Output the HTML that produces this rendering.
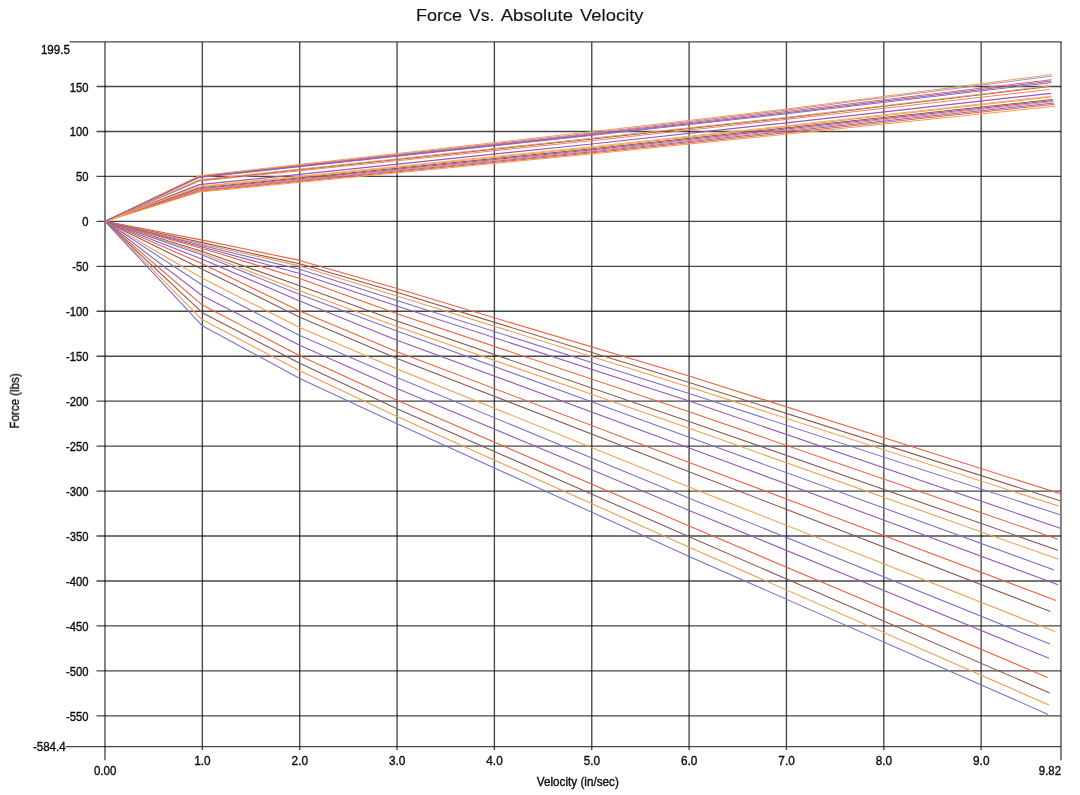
<!DOCTYPE html>
<html><head><meta charset="utf-8"><title>Force Vs. Absolute Velocity</title>
<style>
html,body{margin:0;padding:0;background:#fff;}
body{width:1080px;height:795px;overflow:hidden;font-family:"Liberation Sans",sans-serif;}
svg{display:block;}
text{font-family:"Liberation Sans",sans-serif;fill:#111;}
.t{font-size:11.8px;}
</style></head><body>
<svg width="1080" height="795" viewBox="0 0 1080 795">
<rect width="1080" height="795" fill="#fff"/>
<g stroke="rgba(0,0,0,0.72)" stroke-width="1.35" fill="none">
<line x1="96.5" y1="86.50" x2="1060.98" y2="86.50"/>
<line x1="96.5" y1="131.45" x2="1060.98" y2="131.45"/>
<line x1="96.5" y1="176.40" x2="1060.98" y2="176.40"/>
<line x1="96.5" y1="221.35" x2="1060.98" y2="221.35"/>
<line x1="96.5" y1="266.30" x2="1060.98" y2="266.30"/>
<line x1="96.5" y1="311.25" x2="1060.98" y2="311.25"/>
<line x1="96.5" y1="356.20" x2="1060.98" y2="356.20"/>
<line x1="96.5" y1="401.15" x2="1060.98" y2="401.15"/>
<line x1="96.5" y1="446.10" x2="1060.98" y2="446.10"/>
<line x1="96.5" y1="491.05" x2="1060.98" y2="491.05"/>
<line x1="96.5" y1="536.00" x2="1060.98" y2="536.00"/>
<line x1="96.5" y1="580.95" x2="1060.98" y2="580.95"/>
<line x1="96.5" y1="625.90" x2="1060.98" y2="625.90"/>
<line x1="96.5" y1="670.85" x2="1060.98" y2="670.85"/>
<line x1="96.5" y1="715.80" x2="1060.98" y2="715.80"/>
<line x1="69.5" y1="41.90" x2="1061.65" y2="41.90"/>
<line x1="65.5" y1="746.55" x2="1060.98" y2="746.55"/>
<line x1="105.00" y1="41.90" x2="105.00" y2="760.2"/>
<line x1="202.35" y1="41.90" x2="202.35" y2="750"/>
<line x1="299.70" y1="41.90" x2="299.70" y2="750"/>
<line x1="397.05" y1="41.90" x2="397.05" y2="750"/>
<line x1="494.40" y1="41.90" x2="494.40" y2="750"/>
<line x1="591.75" y1="41.90" x2="591.75" y2="750"/>
<line x1="689.10" y1="41.90" x2="689.10" y2="750"/>
<line x1="786.45" y1="41.90" x2="786.45" y2="750"/>
<line x1="883.80" y1="41.90" x2="883.80" y2="750"/>
<line x1="981.15" y1="41.90" x2="981.15" y2="750"/>
<line x1="1060.98" y1="41.90" x2="1060.98" y2="760.2"/>
</g>
<g fill="none" stroke-width="1.08" stroke-linejoin="round" stroke-linecap="butt">
<polyline stroke="#f0603c" points="105.0,221.3 202.3,240.1 299.7,260.4 397.0,288.6 689.1,376.1 1060.5,493.7"/>
<polyline stroke="#8a584e" points="105.0,221.3 202.3,242.6 299.7,263.8 397.0,292.3 689.1,382.4 1060.2,500.8"/>
<polyline stroke="#f59b50" points="105.0,221.3 202.3,244.1 299.7,265.9 397.0,295.9 689.1,387.0 1059.2,506.3"/>
<polyline stroke="#7a70cc" points="105.0,221.3 202.3,245.6 299.7,269.3 397.0,300.6 689.1,393.4 1060.2,514.8"/>
<polyline stroke="#9658b6" points="105.0,221.3 202.3,247.1 299.7,273.4 397.0,306.0 689.1,401.1 1060.2,528.2"/>
<polyline stroke="#f0603c" points="105.0,221.3 202.3,248.4 299.7,278.4 397.0,313.7 689.1,411.8 1057.8,539.2"/>
<polyline stroke="#8a584e" points="105.0,221.3 202.3,251.4 299.7,285.7 397.0,321.1 689.1,421.4 1057.8,550.2"/>
<polyline stroke="#f59b50" points="105.0,221.3 202.3,253.2 299.7,290.8 397.0,326.5 689.1,428.2 1058.4,559.3"/>
<polyline stroke="#7a70cc" points="105.0,221.3 202.3,255.0 299.7,294.6 397.0,331.1 689.1,437.2 1054.2,570.0"/>
<polyline stroke="#9658b6" points="105.0,221.3 202.3,259.2 299.7,301.1 397.0,340.2 689.1,447.9 1058.1,584.8"/>
<polyline stroke="#f0603c" points="105.0,221.3 202.3,263.8 299.7,311.1 397.0,351.7 689.1,462.4 1056.0,600.4"/>
<polyline stroke="#8a584e" points="105.0,221.3 202.3,269.3 299.7,317.2 397.0,358.5 689.1,471.8 1050.5,611.4"/>
<polyline stroke="#f59b50" points="105.0,221.3 202.3,278.3 299.7,327.6 397.0,368.9 689.1,486.9 1055.0,631.5"/>
<polyline stroke="#7a70cc" points="105.0,221.3 202.3,285.0 299.7,335.6 397.0,377.6 689.1,498.2 1050.0,644.1"/>
<polyline stroke="#9658b6" points="105.0,221.3 202.3,295.8 299.7,345.2 397.0,388.5 689.1,510.4 1049.0,658.3"/>
<polyline stroke="#f0603c" points="105.0,221.3 202.3,305.1 299.7,355.7 397.0,400.3 689.1,526.0 1047.5,677.4"/>
<polyline stroke="#8a584e" points="105.0,221.3 202.3,312.7 299.7,363.3 397.0,408.8 689.1,536.8 1049.7,693.0"/>
<polyline stroke="#f59b50" points="105.0,221.3 202.3,319.8 299.7,370.8 397.0,416.4 689.1,547.3 1049.0,705.0"/>
<polyline stroke="#7a70cc" points="105.0,221.3 202.3,325.8 299.7,378.4 397.0,423.7 689.1,556.4 1048.2,714.4"/>
</g>
<g fill="none" stroke-width="1.0" stroke-linejoin="round">
<polyline stroke="#7a70cc" points="105.0,221.3 199.3,177.5 591.8,135.4 786.4,113.8 1051.5,82.6"/>
<polyline stroke="#7a70cc" points="105.0,221.3 199.3,190.4 591.8,151.8 786.4,131.4 1054.0,103.0"/>
<polyline stroke="#9a94dc" points="105.0,221.3 199.3,176.2 591.8,133.0 786.4,110.1 1051.9,76.1"/>
<polyline stroke="#9658b6" points="105.0,221.3 199.3,188.8 591.8,149.9 786.4,129.0 1052.8,100.6"/>
<polyline stroke="#9658b6" stroke-width="1.25" points="105.0,221.3 199.3,184.7 591.8,144.0 786.4,122.8 1051.1,93.3"/>
<polyline stroke="#f0603c" points="105.0,221.3 199.3,176.7 591.8,133.9 786.4,111.5 1051.5,79.7"/>
<polyline stroke="#f4806a" points="105.0,221.3 199.3,181.1 591.8,140.7 786.4,119.4 1049.4,89.5"/>
<polyline stroke="#f4806a" points="105.0,221.3 199.3,189.7 591.8,150.9 786.4,130.2 1053.5,101.6"/>
<polyline stroke="#f0603c" points="105.0,221.3 199.3,191.2 591.8,152.8 786.4,132.8 1054.5,104.3"/>
<polyline stroke="#8a584e" points="105.0,221.3 199.3,180.2 591.8,139.0 786.4,118.0 1050.3,86.4"/>
<polyline stroke="#8a584e" points="105.0,221.3 199.3,187.9 591.8,148.8 786.4,127.8 1052.8,99.5"/>
<polyline stroke="#f59b50" points="105.0,221.3 199.3,179.8 591.8,138.2 786.4,117.4 1050.3,85.8"/>
<polyline stroke="#f7b060" points="105.0,221.3 199.3,186.3 591.8,146.6 786.4,125.7 1051.9,96.0"/>
<polyline stroke="#f59b50" points="105.0,221.3 199.3,187.0 591.8,147.6 786.4,126.6 1051.9,96.9"/>
<polyline stroke="#f59b50" points="105.0,221.3 199.3,175.7 591.8,131.7 786.4,109.1 1051.9,74.5"/>
<polyline stroke="#f59b50" points="105.0,221.3 199.3,192.1 591.8,153.9 786.4,134.2 1055.7,106.2"/>
<polyline stroke="#9658b6" points="105.0,221.3 199.3,177.1 591.8,134.7 786.4,112.8 1051.5,81.1"/>
</g>
<g fill="#000" stroke="#000" stroke-width="0.35" opacity="0.99">
<text transform="translate(415.90,21.30) scale(1.0368,1)" text-anchor="start" font-size="17.4px" stroke-width="0.12">Force</text>
<text transform="translate(469.10,21.30) scale(1.0044,1)" text-anchor="start" font-size="17.4px" stroke-width="0.12">Vs.</text>
<text transform="translate(500.70,21.30) scale(1.0681,1)" text-anchor="start" font-size="17.4px" stroke-width="0.12">Absolute</text>
<text transform="translate(580.10,21.30) scale(1.059,1)" text-anchor="start" font-size="17.4px" stroke-width="0.12">Velocity</text>
<text transform="translate(88.40,91.50) scale(0.9345,1)" text-anchor="end" font-size="12.0px">150</text>
<text transform="translate(88.40,136.45) scale(0.9345,1)" text-anchor="end" font-size="12.0px">100</text>
<text transform="translate(88.40,181.40) scale(0.9345,1)" text-anchor="end" font-size="12.0px">50</text>
<text transform="translate(88.40,226.35) scale(0.9345,1)" text-anchor="end" font-size="12.0px">0</text>
<text transform="translate(88.40,271.30) scale(0.9345,1)" text-anchor="end" font-size="12.0px">-50</text>
<text transform="translate(88.40,316.25) scale(0.9345,1)" text-anchor="end" font-size="12.0px">-100</text>
<text transform="translate(88.40,361.20) scale(0.9345,1)" text-anchor="end" font-size="12.0px">-150</text>
<text transform="translate(88.40,406.15) scale(0.9345,1)" text-anchor="end" font-size="12.0px">-200</text>
<text transform="translate(88.40,451.10) scale(0.9345,1)" text-anchor="end" font-size="12.0px">-250</text>
<text transform="translate(88.40,496.05) scale(0.9345,1)" text-anchor="end" font-size="12.0px">-300</text>
<text transform="translate(88.40,541.00) scale(0.9345,1)" text-anchor="end" font-size="12.0px">-350</text>
<text transform="translate(88.40,585.95) scale(0.9345,1)" text-anchor="end" font-size="12.0px">-400</text>
<text transform="translate(88.40,630.90) scale(0.9345,1)" text-anchor="end" font-size="12.0px">-450</text>
<text transform="translate(88.40,675.85) scale(0.9345,1)" text-anchor="end" font-size="12.0px">-500</text>
<text transform="translate(88.40,720.80) scale(0.9345,1)" text-anchor="end" font-size="12.0px">-550</text>
<text transform="translate(69.90,53.70) scale(0.966,1)" text-anchor="end" font-size="12.0px">199.5</text>
<text transform="translate(65.70,751.20) scale(0.966,1)" text-anchor="end" font-size="12.0px">-584.4</text>
<text transform="translate(202.45,764.80) scale(0.9839,1)" text-anchor="middle" font-size="12.0px">1.0</text>
<text transform="translate(299.80,764.80) scale(0.9839,1)" text-anchor="middle" font-size="12.0px">2.0</text>
<text transform="translate(397.15,764.80) scale(0.9839,1)" text-anchor="middle" font-size="12.0px">3.0</text>
<text transform="translate(494.50,764.80) scale(0.9839,1)" text-anchor="middle" font-size="12.0px">4.0</text>
<text transform="translate(591.85,764.80) scale(0.9839,1)" text-anchor="middle" font-size="12.0px">5.0</text>
<text transform="translate(689.20,764.80) scale(0.9839,1)" text-anchor="middle" font-size="12.0px">6.0</text>
<text transform="translate(786.55,764.80) scale(0.9839,1)" text-anchor="middle" font-size="12.0px">7.0</text>
<text transform="translate(883.90,764.80) scale(0.9839,1)" text-anchor="middle" font-size="12.0px">8.0</text>
<text transform="translate(981.25,764.80) scale(0.9839,1)" text-anchor="middle" font-size="12.0px">9.0</text>
<text transform="translate(105.10,775.30) scale(0.9597,1)" text-anchor="middle" font-size="12.0px">0.00</text>
<text transform="translate(1061.00,775.30) scale(0.9482,1)" text-anchor="end" font-size="12.0px">9.82</text>
<text transform="translate(577.80,785.90) scale(0.9776,1)" text-anchor="middle" font-size="12.0px">Velocity (in/sec)</text>
<text transform="translate(18.9,400.9) rotate(-90) scale(0.963,1)" text-anchor="middle" font-size="12px">Force (lbs)</text>
</g>
</svg>
</body></html>
